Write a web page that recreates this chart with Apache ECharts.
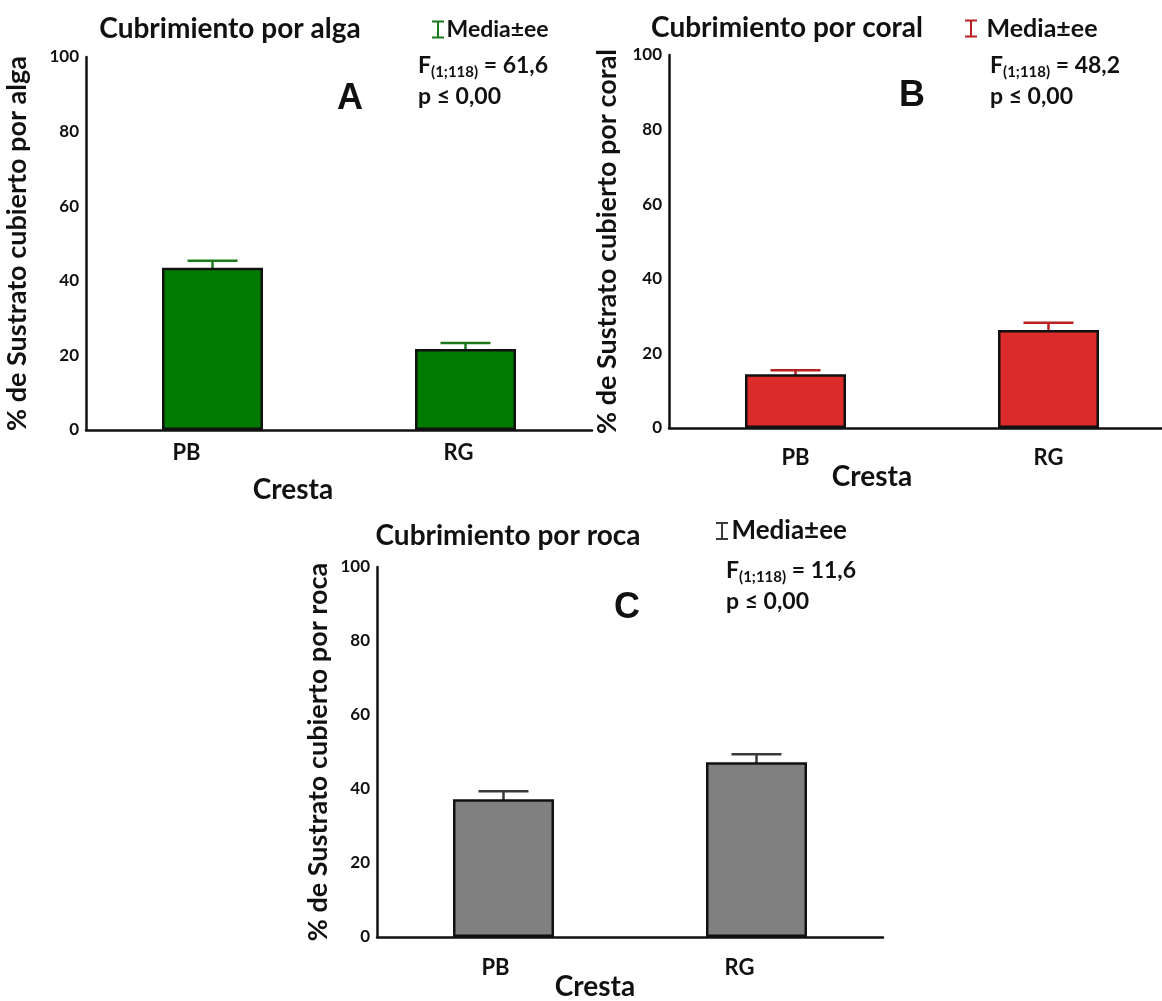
<!DOCTYPE html>
<html>
<head>
<meta charset="utf-8">
<script src="https://cdn.jsdelivr.net/npm/echarts@6/dist/echarts.min.js"></script>
<style>
html,body{margin:0;padding:0;background:#fff;}
#chart{width:1162px;height:1001px;}
</style>
</head>
<body>
<div id="chart"></div>
<script>
// ---- data ----
const categories = ['PB', 'RG'];
const algaMean = [43.5, 21.7];
const algaSE = [1.9, 1.6];
const coralMean = [14.4, 26.3];
const coralSE = [1.1, 1.9];
const rocaMean = [37.2, 47.2];
const rocaSE = [2.2, 2.2];
const titles = ['Cubrimiento por alga', 'Cubrimiento por coral', 'Cubrimiento por roca'];
const yNames = ['% de Sustrato cubierto por alga', '% de Sustrato cubierto por coral', '% de Sustrato cubierto por roca'];
const xName = 'Cresta';
const legendLabel = 'Media±ee';
const fStats = ['61,6', '48,2', '11,6'];
const pLabel = 'p ≤ 0,00';
const panelLetters = ['A', 'B', 'C'];

const FONT = 'Lato, "Open Sans", sans-serif';

const chart = echarts.init(document.getElementById('chart'));

const grids = [
  {left: 86, top: 57, width: 506, height: 373, containLabel: false, outerBoundsMode: 'none'},
  {left: 669, top: 55, width: 506, height: 373, containLabel: false, outerBoundsMode: 'none'},
  {left: 377, top: 567, width: 506, height: 370, containLabel: false, outerBoundsMode: 'none'}
];
const fills = ['#007a00', '#dc2b2b', '#808080'];
const errColors = ['#1c7a1c', '#b82020', '#3a3a3a'];
const means = [algaMean, coralMean, rocaMean];
const ses = [algaSE, coralSE, rocaSE];
const labelShift = [[-26, -7], [0, 0], [-8, -17]]; // px shift of category labels
const labelMargins = [12, 19, 20];
const namePad = [[0, 92, 0, 0], [0, 100, 0, 0], [0, 70, 0, 0]];
const nameGaps = [46, 35, 36];
const yNameGaps = [55, 48, 45];

function errRender(capPx) {
  return function (params, api) {
    const x = api.value(0), m = api.value(1), se = api.value(2);
    const top = api.coord([x, m + se]);
    const bot = api.coord([x, m - se]);
    const c = api.visual('color');
    const st = {stroke: c, lineWidth: 2.5};
    return {
      type: 'group',
      children: [
        {type: 'line', shape: {x1: top[0], y1: top[1], x2: bot[0], y2: bot[1]}, style: st},
        {type: 'line', shape: {x1: top[0] - capPx / 2, y1: top[1], x2: top[0] + capPx / 2, y2: top[1]}, style: st}
      ]
    };
  };
}

const xAxes = [], yAxes = [], series = [], legends = [], titleArr = [], graphics = [];
const legendPos = [[427, 13], [960, 11], [711, 513]];
const legendFont = [23, 25, 26];
const legendTextPad = [[0, 0, 0, -3], [0, 0, 0, 4], [0, 0, 0, -2]];
const statPos = [[418, 54], [990, 54], [726, 559]];
const titlePos = [[225, 10], [782, 9], [503, 517]];
const letterPos = [[345, 76], [907, 73], [622, 585]];

for (let k = 0; k < 3; k++) {
  xAxes.push({
    type: 'category', gridIndex: k,
    data: categories.map((c, i) => ({value: c, textStyle: {padding: labelShift[k][i] < 0 ? [0, -2 * labelShift[k][i], 0, 0] : [0, 0, 0, 2 * labelShift[k][i]]}})),
    axisLine: {lineStyle: {color: '#111', width: 2.5}},
    axisTick: {show: false},
    axisLabel: {color: '#111', fontFamily: FONT, fontWeight: 'bold', fontSize: 22, margin: labelMargins[k]},
    name: xName, nameLocation: 'middle', nameGap: nameGaps[k], nameMoveOverlap: false,
    nameTextStyle: {color: '#111', fontFamily: FONT, fontWeight: 'bold', fontSize: 28, padding: namePad[k]}
  });
  yAxes.push({
    type: 'value', gridIndex: k, min: 0, max: 100, interval: 20,
    splitLine: {show: false},
    axisLine: {show: true, lineStyle: {color: '#111', width: 2.5}},
    axisTick: {show: false},
    axisLabel: {color: '#111', fontFamily: FONT, fontWeight: 'bold', fontSize: 17, margin: 7},
    name: yNames[k], nameLocation: 'middle', nameRotate: 90, nameGap: yNameGaps[k], nameMoveOverlap: false,
    nameTextStyle: {color: '#111', fontFamily: FONT, fontWeight: 'bold', fontSize: 27}
  });
  series.push({
    type: 'bar', xAxisIndex: k, yAxisIndex: k, z: 3,
    barWidth: 101,
    data: means[k],
    itemStyle: {color: fills[k], borderColor: '#111', borderWidth: 2.5},
    silent: true
  });
  series.push({
    type: 'custom', name: 'ee' + k, xAxisIndex: k, yAxisIndex: k, z: 2,
    renderItem: errRender(50),
    itemStyle: {color: errColors[k]},
    encode: {x: 0, y: 1},
    data: categories.map((c, i) => [i, means[k][i], ses[k][i]])
  });
  legends.push({
    data: ['ee' + k], left: legendPos[k][0], top: legendPos[k][1],
    formatter: () => legendLabel,
    icon: 'path://M0,0 L12,0 L12,2 L7,2 L7,16 L12,16 L12,18 L0,18 L0,16 L5,16 L5,2 L0,2 Z',
    itemWidth: 13, itemHeight: 18, itemGap: 2,
    selectedMode: false,
    textStyle: {color: '#111', fontFamily: FONT, fontWeight: 'bold', fontSize: legendFont[k], padding: legendTextPad[k]}
  });
  titleArr.push({
    text: titles[k], left: titlePos[k][0], top: titlePos[k][1], textAlign: 'center',
    textStyle: {color: '#111', fontFamily: FONT, fontWeight: 'bold', fontSize: 28}
  });
  titleArr.push({
    text: panelLetters[k], left: letterPos[k][0], top: letterPos[k][1], textAlign: 'center',
    textStyle: {color: '#111', fontFamily: 'Liberation Sans, Arial, sans-serif', fontWeight: 'bold', fontSize: 36}
  });
  graphics.push({
    type: 'text', left: statPos[k][0], top: statPos[k][1],
    style: {
      text: '{f|F}{s|(1;118)}{f| = ' + fStats[k] + '}\n{f|' + pLabel + '}',
      rich: {
        f: {fontFamily: FONT, fontWeight: 'bold', fontSize: 23, fill: '#111', lineHeight: 31, verticalAlign: 'middle'},
        s: {fontFamily: FONT, fontWeight: 'bold', fontSize: 15, fill: '#111', lineHeight: 31, verticalAlign: 'bottom', padding: [0, 0, 1, 0]}
      }
    }
  });
}

chart.setOption({
  animation: false,
  backgroundColor: '#fff',
  title: titleArr,
  legend: legends,
  grid: grids,
  xAxis: xAxes,
  yAxis: yAxes,
  series: series,
  graphic: graphics
});
</script>
</body>
</html>
